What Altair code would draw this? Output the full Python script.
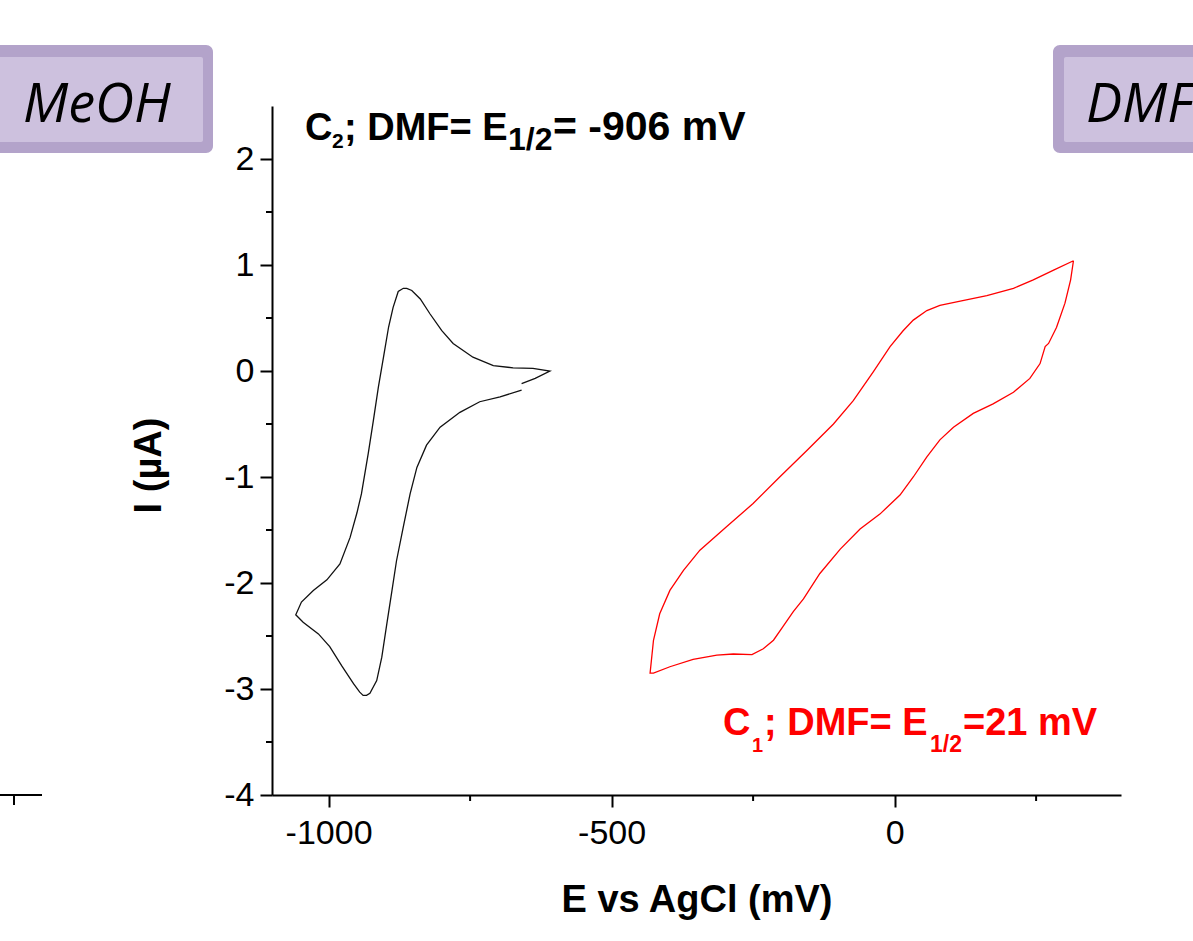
import altair as alt
import pandas as pd

# ---- data ----
# C2 in DMF (black), potential in mV, current in uA, in drawing order
c2_e = [-659, -635, -609, -639, -674, -709, -745, -780, -800, -821, -838, -853, -862, -868,
        -877, -886, -894, -903, -912, -921, -930, -942, -950, -962, -980, -1003, -1027, -1048,
        -1058, -1045, -1018, -998, -977, -956, -945, -939, -933, -927, -915, -906, -897, -888,
        -880, -868, -856, -844, -827, -803, -768, -733, -697, -659]
c2_i = [-0.12, -0.07, 0.0, 0.025, 0.03, 0.05, 0.13, 0.26, 0.38, 0.54, 0.68, 0.76, 0.78, 0.78,
        0.75, 0.60, 0.415, 0.13, -0.15, -0.47, -0.78, -1.16, -1.34, -1.57, -1.82, -1.97, -2.07, -2.18,
        -2.30, -2.37, -2.48, -2.60, -2.78, -2.95, -3.03, -3.06, -3.06, -3.04, -2.92, -2.70, -2.38, -2.07,
        -1.79, -1.47, -1.16, -0.91, -0.70, -0.53, -0.39, -0.29, -0.245, -0.18]

# C1 in DMF (red)
c1_e = [316, 280, 245, 210, 163, 116, 80, 57, 33, 15, -8, -38, -73, -108, -155, -203, -250,
        -297, -344, -373, -397, -415, -426, -432, -426, -397, -356, -314, -285, -252, -232,
        -214, -197, -179, -161, -132, -96, -61, -26, 9.5, 33, 57, 80, 104, 139, 174, 210, 239,
        257, 266, 272, 286, 301, 311, 316]
c1_i = [1.04, 0.95, 0.86, 0.78, 0.71, 0.66, 0.62, 0.57, 0.48, 0.38, 0.23, -0.01, -0.28, -0.50,
        -0.75, -1.0, -1.25, -1.47, -1.69, -1.88, -2.07, -2.29, -2.54, -2.85, -2.85, -2.79, -2.72,
        -2.68, -2.67, -2.675, -2.62, -2.54, -2.41, -2.27, -2.15, -1.91, -1.68, -1.49, -1.35,
        -1.17, -1.0, -0.81, -0.65, -0.53, -0.40, -0.31, -0.20, -0.07, 0.07, 0.23, 0.26, 0.41,
        0.64, 0.86, 1.04]

x_major = [-1000, -500, 0]
x_minor = [-750, -250, 250]
y_major = [-4, -3, -2, -1, 0, 1, 2]
y_minor = [-3.5, -2.5, -1.5, -0.5, 0.5, 1.5]

W, H = 849, 689
FONT = "Liberation Sans"

df2 = pd.DataFrame({"E": c2_e, "I": c2_i, "k": list(range(len(c2_e)))})
df1 = pd.DataFrame({"E": c1_e, "I": c1_i, "k": list(range(len(c1_e)))})
dfxm = pd.DataFrame({"E": x_minor})
dfym = pd.DataFrame({"I": y_minor})
one = pd.DataFrame({"a": [0]})

xs = alt.Scale(domain=[-1100, 400], nice=False, zero=False)
ys = alt.Scale(domain=[-4, 2.5], nice=False, zero=False)

x_axis = alt.Axis(values=x_major, tickSize=12, tickWidth=2, tickColor="black",
                  domainWidth=2, domainColor="black", grid=False,
                  labelExpr="'' + datum.value", labelFont=FONT, labelFontSize=34,
                  labelColor="black", labelPadding=9, labelFlush=False,
                  title="E vs AgCl (mV)", titleFont=FONT, titleFontSize=38,
                  titleFontWeight="bold", titleColor="black", titleY=116,
                  titleBaseline="alphabetic")
y_axis = alt.Axis(values=y_major, tickSize=12, tickWidth=2, tickColor="black",
                  domainWidth=2, domainColor="black", grid=False,
                  labelExpr="'' + datum.value", labelFont=FONT, labelFontSize=34,
                  labelColor="black", labelPadding=6, labelFlush=False,
                  title="I (µA)", titleFont=FONT, titleFontSize=38,
                  titleFontWeight="bold", titleColor="black", titleX=-123, titleY=359,
                  titleBaseline="middle", titleAngle=270)

black = alt.Chart(df2).mark_line(color="#111111", strokeWidth=1.3).encode(
    x=alt.X("E:Q", scale=xs, axis=x_axis),
    y=alt.Y("I:Q", scale=ys, axis=y_axis),
    order="k:Q")
red = alt.Chart(df1).mark_line(color="#ff0000", strokeWidth=1.3).encode(
    x=alt.X("E:Q", scale=xs, axis=x_axis),
    y=alt.Y("I:Q", scale=ys, axis=y_axis),
    order="k:Q")

xminor = alt.Chart(dfxm).mark_rule(color="black", strokeWidth=2).encode(
    x=alt.X("E:Q", scale=xs, axis=x_axis), y=alt.value(H), y2=alt.value(H + 6))
yminor = alt.Chart(dfym).mark_rule(color="black", strokeWidth=2).encode(
    y=alt.Y("I:Q", scale=ys, axis=y_axis), x=alt.value(-6), x2=alt.value(0))


def txt(s, x, y, size, color="black", weight="bold", style="normal", font=FONT, align="left"):
    return alt.Chart(one).mark_text(text=s, align=align, baseline="alphabetic",
                                    fontSize=size, fontWeight=weight, fontStyle=style,
                                    font=font, color=color).encode(
        x=alt.value(x), y=alt.value(y))


def box(x1, x2, y1, y2, color, r):
    return alt.Chart(one).mark_rect(color=color, cornerRadius=r).encode(
        x=alt.value(x1), x2=alt.value(x2), y=alt.value(y1), y2=alt.value(y2))


OUT, INN = "#b3a3ca", "#cdc1de"
X0 = 272  # plot-area left edge in page pixels
deco = [
    box(-302, -59, -61, 47, OUT, 7), box(-292, -69, -49, 36, INN, 2),
    box(781, 960, -61, 47, OUT, 7), box(792, 960, -49, 36, INN, 2),
    txt("MeOH", -249, 16, 54, weight="normal", style="italic", font="Open Sans"),
    txt("DMF", 814, 16, 54, weight="normal", style="italic", font="Open Sans"),
    # black annotation
    txt("C", 305 - X0, 34, 38), txt("2", 332 - X0, 42, 21),
    txt("; DMF= E", 344 - X0, 34, 38),
    txt("1/2", 508 - X0, 44, 32),
    txt("= -906 mV", 553 - X0, 34, 41),
    # red annotation
    txt("C", 451, 629, 38, color="#ff0000"), txt("1", 480, 646, 20, color="#ff0000"),
    txt("; DMF= E", 492, 629, 38, color="#ff0000"), txt("1/2", 658, 646, 23, color="#ff0000"),
    txt("=21 mV", 691, 629, 38, color="#ff0000"),
]

frag = [
    alt.Chart(one).mark_rule(color="black", strokeWidth=2).encode(
        x=alt.value(-272), x2=alt.value(-230), y=alt.value(H)),
    alt.Chart(one).mark_rule(color="black", strokeWidth=2).encode(
        x=alt.value(-258), y=alt.value(H), y2=alt.value(H + 10)),
]

chart = alt.layer(*deco[:4], black, red, xminor, yminor, *deco[4:], *frag).properties(
    width=W, height=H,
    autosize=alt.AutoSizeParams(type="none"),
    padding={"left": 272, "top": 106, "right": 1193 - 272 - W, "bottom": 941 - 106 - H},
    background="white",
).configure_view(stroke=None)

chart.save("out.html", embed_options={"renderer": "svg", "actions": False})
